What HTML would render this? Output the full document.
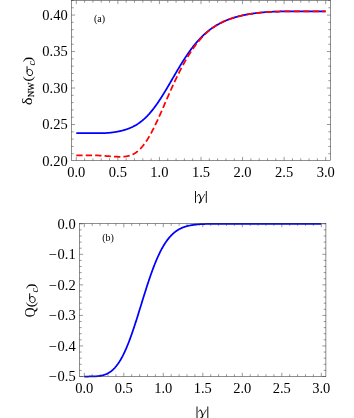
<!DOCTYPE html>
<html><head><meta charset="utf-8"><title>chart</title>
<style>html,body{margin:0;padding:0;background:#fff}svg{display:block;will-change:transform}</style></head>
<body>
<svg width="354" height="418" viewBox="0 0 354 418">
<style>
text{font-family:"Liberation Serif",serif;fill:#000}
.tk{font-size:14.5px}
.lb{font-size:10px}
.ax{font-size:14px}
.it{font-style:italic}
</style>
<rect width="354" height="418" fill="#fff"/>
<path d="M76.30,133.15 L76.72,133.15 L77.13,133.15 L77.55,133.15 L77.96,133.15 L78.38,133.15 L78.79,133.15 L79.21,133.15 L79.63,133.15 L80.04,133.15 L80.46,133.15 L80.87,133.15 L81.29,133.15 L81.70,133.15 L82.12,133.15 L82.53,133.15 L82.95,133.15 L83.37,133.15 L83.78,133.15 L84.20,133.15 L84.61,133.15 L85.03,133.15 L85.44,133.15 L85.86,133.15 L86.28,133.15 L86.69,133.15 L87.11,133.15 L87.52,133.15 L87.94,133.15 L88.35,133.15 L88.77,133.15 L89.19,133.15 L89.60,133.15 L90.02,133.15 L90.43,133.15 L90.85,133.15 L91.26,133.15 L91.68,133.15 L92.09,133.15 L92.51,133.15 L92.93,133.15 L93.34,133.15 L93.76,133.15 L94.17,133.15 L94.59,133.15 L95.00,133.15 L95.42,133.15 L95.84,133.15 L96.25,133.15 L96.67,133.15 L97.08,133.15 L97.50,133.15 L97.91,133.15 L98.33,133.15 L98.75,133.15 L99.16,133.15 L99.58,133.15 L99.99,133.15 L100.41,133.14 L100.82,133.14 L101.24,133.14 L101.65,133.13 L102.07,133.13 L102.49,133.12 L102.90,133.12 L103.32,133.11 L103.73,133.10 L104.15,133.08 L104.56,133.07 L104.98,133.05 L105.40,133.04 L105.81,133.02 L106.23,133.00 L106.64,132.97 L107.06,132.95 L107.47,132.92 L107.89,132.89 L108.31,132.86 L108.72,132.82 L109.14,132.79 L109.55,132.75 L109.97,132.71 L110.38,132.67 L110.80,132.62 L111.21,132.57 L111.63,132.53 L112.05,132.47 L112.46,132.42 L112.88,132.37 L113.29,132.31 L113.71,132.25 L114.12,132.19 L114.54,132.13 L114.96,132.06 L115.37,132.00 L115.79,131.93 L116.20,131.86 L116.62,131.78 L117.03,131.71 L117.45,131.63 L117.86,131.55 L118.28,131.47 L118.70,131.39 L119.11,131.30 L119.53,131.21 L119.94,131.12 L120.36,131.03 L120.77,130.93 L121.19,130.83 L121.61,130.73 L122.02,130.63 L122.44,130.52 L122.85,130.41 L123.27,130.30 L123.68,130.18 L124.10,130.07 L124.52,129.95 L124.93,129.82 L125.35,129.69 L125.76,129.56 L126.18,129.43 L126.59,129.29 L127.01,129.15 L127.42,129.00 L127.84,128.85 L128.26,128.70 L128.67,128.54 L129.09,128.38 L129.50,128.22 L129.92,128.05 L130.33,127.87 L130.75,127.69 L131.17,127.51 L131.58,127.32 L132.00,127.13 L132.41,126.93 L132.83,126.73 L133.24,126.52 L133.66,126.31 L134.08,126.09 L134.49,125.87 L134.91,125.64 L135.32,125.40 L135.74,125.16 L136.15,124.92 L136.57,124.67 L136.98,124.41 L137.40,124.15 L137.82,123.88 L138.23,123.60 L138.65,123.32 L139.06,123.03 L139.48,122.74 L139.89,122.44 L140.31,122.13 L140.73,121.81 L141.14,121.49 L141.56,121.17 L141.97,120.83 L142.39,120.49 L142.80,120.14 L143.22,119.79 L143.64,119.42 L144.05,119.06 L144.47,118.68 L144.88,118.29 L145.30,117.90 L145.71,117.51 L146.13,117.10 L146.54,116.69 L146.96,116.27 L147.38,115.84 L147.79,115.40 L148.21,114.96 L148.62,114.51 L149.04,114.06 L149.45,113.59 L149.87,113.12 L150.29,112.64 L150.70,112.15 L151.12,111.66 L151.53,111.16 L151.95,110.65 L152.36,110.14 L152.78,109.61 L153.20,109.08 L153.61,108.55 L154.03,108.00 L154.44,107.45 L154.86,106.90 L155.27,106.33 L155.69,105.76 L156.10,105.19 L156.52,104.60 L156.94,104.01 L157.35,103.42 L157.77,102.82 L158.18,102.21 L158.60,101.59 L159.01,100.97 L159.43,100.35 L159.85,99.72 L160.26,99.08 L160.68,98.44 L161.09,97.79 L161.51,97.14 L161.92,96.49 L162.34,95.83 L162.76,95.16 L163.17,94.49 L163.59,93.82 L164.00,93.14 L164.42,92.46 L164.83,91.78 L165.25,91.09 L165.66,90.40 L166.08,89.70 L166.50,89.00 L166.91,88.30 L167.33,87.60 L167.74,86.90 L168.16,86.19 L168.57,85.48 L168.99,84.77 L169.41,84.06 L169.82,83.35 L170.24,82.64 L170.65,81.92 L171.07,81.21 L171.48,80.49 L171.90,79.77 L172.32,79.06 L172.73,78.34 L173.15,77.63 L173.56,76.91 L173.98,76.20 L174.39,75.48 L174.81,74.77 L175.22,74.06 L175.64,73.35 L176.06,72.64 L176.47,71.93 L176.89,71.22 L177.30,70.52 L177.72,69.82 L178.13,69.12 L178.55,68.43 L178.97,67.73 L179.38,67.04 L179.80,66.36 L180.21,65.67 L180.63,64.99 L181.04,64.31 L181.46,63.64 L181.88,62.97 L182.29,62.30 L182.71,61.64 L183.12,60.98 L183.54,60.33 L183.95,59.68 L184.37,59.03 L184.78,58.39 L185.20,57.76 L185.62,57.13 L186.03,56.50 L186.45,55.88 L186.86,55.26 L187.28,54.65 L187.69,54.04 L188.11,53.44 L188.53,52.85 L188.94,52.26 L189.36,51.67 L189.77,51.09 L190.19,50.52 L190.60,49.95 L191.02,49.38 L191.44,48.83 L191.85,48.27 L192.27,47.73 L192.68,47.19 L193.10,46.65 L193.51,46.12 L193.93,45.60 L194.34,45.08 L194.76,44.57 L195.18,44.06 L195.59,43.56 L196.01,43.07 L196.42,42.58 L196.84,42.09 L197.25,41.62 L197.67,41.14 L198.09,40.68 L198.50,40.22 L198.92,39.76 L199.33,39.31 L199.75,38.87 L200.16,38.43 L200.58,38.00 L201.00,37.58 L201.41,37.15 L201.83,36.74 L202.24,36.33 L202.66,35.93 L203.07,35.53 L203.49,35.13 L203.90,34.74 L204.32,34.36 L204.74,33.98 L205.15,33.61 L205.57,33.24 L205.98,32.88 L206.40,32.53 L206.81,32.17 L207.23,31.83 L207.65,31.49 L208.06,31.15 L208.48,30.82 L208.89,30.49 L209.31,30.17 L209.72,29.85 L210.14,29.53 L210.55,29.23 L210.97,28.92 L211.39,28.62 L211.80,28.33 L212.22,28.04 L212.63,27.75 L213.05,27.47 L213.46,27.19 L213.88,26.92 L214.30,26.65 L214.71,26.38 L215.13,26.12 L215.54,25.86 L215.96,25.61 L216.37,25.36 L216.79,25.11 L217.21,24.87 L217.62,24.63 L218.04,24.39 L218.45,24.16 L218.87,23.94 L219.28,23.71 L219.70,23.49 L220.11,23.27 L220.53,23.06 L220.95,22.85 L221.36,22.64 L221.78,22.44 L222.19,22.23 L222.61,22.04 L223.02,21.84 L223.44,21.65 L223.86,21.46 L224.27,21.27 L224.69,21.09 L225.10,20.91 L225.52,20.73 L225.93,20.56 L226.35,20.38 L226.77,20.21 L227.18,20.05 L227.60,19.88 L228.01,19.72 L228.43,19.56 L228.84,19.40 L229.26,19.25 L229.67,19.10 L230.09,18.95 L230.51,18.80 L230.92,18.66 L231.34,18.51 L231.75,18.37 L232.17,18.23 L232.58,18.10 L233.00,17.96 L233.42,17.83 L233.83,17.70 L234.25,17.57 L234.66,17.45 L235.08,17.33 L235.49,17.20 L235.91,17.08 L236.33,16.97 L236.74,16.85 L237.16,16.73 L237.57,16.62 L237.99,16.51 L238.40,16.40 L238.82,16.29 L239.23,16.19 L239.65,16.08 L240.07,15.98 L240.48,15.88 L240.90,15.78 L241.31,15.68 L241.73,15.59 L242.14,15.49 L242.56,15.40 L242.98,15.31 L243.39,15.22 L243.81,15.13 L244.22,15.05 L244.64,14.96 L245.05,14.88 L245.47,14.79 L245.89,14.71 L246.30,14.63 L246.72,14.55 L247.13,14.48 L247.55,14.40 L247.96,14.32 L248.38,14.25 L248.79,14.18 L249.21,14.11 L249.63,14.04 L250.04,13.97 L250.46,13.90 L250.87,13.84 L251.29,13.77 L251.70,13.71 L252.12,13.65 L252.54,13.58 L252.95,13.52 L253.37,13.46 L253.78,13.41 L254.20,13.35 L254.61,13.29 L255.03,13.24 L255.45,13.18 L255.86,13.13 L256.28,13.08 L256.69,13.03 L257.11,12.98 L257.52,12.93 L257.94,12.88 L258.35,12.84 L258.77,12.79 L259.19,12.75 L259.60,12.70 L260.02,12.66 L260.43,12.62 L260.85,12.57 L261.26,12.53 L261.68,12.50 L262.10,12.46 L262.51,12.42 L262.93,12.38 L263.34,12.35 L263.76,12.31 L264.17,12.28 L264.59,12.24 L265.01,12.21 L265.42,12.18 L265.84,12.15 L266.25,12.12 L266.67,12.09 L267.08,12.06 L267.50,12.03 L267.91,12.00 L268.33,11.98 L268.75,11.95 L269.16,11.93 L269.58,11.90 L269.99,11.88 L270.41,11.86 L270.82,11.83 L271.24,11.81 L271.66,11.79 L272.07,11.77 L272.49,11.75 L272.90,11.73 L273.32,11.71 L273.73,11.69 L274.15,11.68 L274.57,11.66 L274.98,11.64 L275.40,11.63 L275.81,11.61 L276.23,11.60 L276.64,11.58 L277.06,11.57 L277.47,11.56 L277.89,11.54 L278.31,11.53 L278.72,11.52 L279.14,11.51 L279.55,11.50 L279.97,11.49 L280.38,11.48 L280.80,11.47 L281.22,11.46 L281.63,11.45 L282.05,11.44 L282.46,11.43 L282.88,11.43 L283.29,11.42 L283.71,11.41 L284.12,11.40 L284.54,11.40 L284.96,11.39 L285.37,11.39 L285.79,11.38 L286.20,11.38 L286.62,11.37 L287.03,11.37 L287.45,11.36 L287.87,11.36 L288.28,11.35 L288.70,11.35 L289.11,11.35 L289.53,11.34 L289.94,11.34 L290.36,11.34 L290.78,11.33 L291.19,11.33 L291.61,11.33 L292.02,11.33 L292.44,11.32 L292.85,11.32 L293.27,11.32 L293.68,11.32 L294.10,11.32 L294.52,11.32 L294.93,11.31 L295.35,11.31 L295.76,11.31 L296.18,11.31 L296.59,11.31 L297.01,11.31 L297.43,11.31 L297.84,11.31 L298.26,11.31 L298.67,11.31 L299.09,11.31 L299.50,11.31 L299.92,11.30 L300.34,11.30 L300.75,11.30 L301.17,11.30 L301.58,11.30 L302.00,11.30 L302.41,11.30 L302.83,11.30 L303.24,11.30 L303.66,11.30 L304.08,11.30 L304.49,11.30 L304.91,11.30 L305.32,11.30 L305.74,11.30 L306.15,11.30 L306.57,11.30 L306.99,11.30 L307.40,11.30 L307.82,11.30 L308.23,11.30 L308.65,11.30 L309.06,11.30 L309.48,11.30 L309.90,11.30 L310.31,11.30 L310.73,11.30 L311.14,11.30 L311.56,11.30 L311.97,11.30 L312.39,11.30 L312.80,11.30 L313.22,11.30 L313.64,11.30 L314.05,11.30 L314.47,11.30 L314.88,11.30 L315.30,11.30 L315.71,11.30 L316.13,11.30 L316.55,11.30 L316.96,11.30 L317.38,11.30 L317.79,11.30 L318.21,11.30 L318.62,11.30 L319.04,11.30 L319.46,11.30 L319.87,11.30 L320.29,11.30 L320.70,11.30 L321.12,11.30 L321.53,11.30 L321.95,11.30 L322.36,11.30 L322.78,11.30 L323.20,11.30 L323.61,11.30 L324.03,11.30 L324.44,11.30 L324.86,11.30 L325.27,11.30 L325.69,11.30" fill="none" stroke="#0000ff" stroke-width="1.75" stroke-linejoin="round"/>
<path d="M76.30,155.35 L76.72,155.35 L77.13,155.35 L77.55,155.35 L77.96,155.35 L78.38,155.35 L78.79,155.35 L79.21,155.35 L79.63,155.35 L80.04,155.34 L80.46,155.34 L80.87,155.34 L81.29,155.34 L81.70,155.34 L82.12,155.34 L82.53,155.33 L82.95,155.33 L83.37,155.33 L83.78,155.33 L84.20,155.32 L84.61,155.32 L85.03,155.32 L85.44,155.32 L85.86,155.31 L86.28,155.31 L86.69,155.31 L87.11,155.31 L87.52,155.31 L87.94,155.30 L88.35,155.30 L88.77,155.30 L89.19,155.30 L89.60,155.30 L90.02,155.30 L90.43,155.30 L90.85,155.31 L91.26,155.31 L91.68,155.31 L92.09,155.31 L92.51,155.32 L92.93,155.32 L93.34,155.33 L93.76,155.33 L94.17,155.34 L94.59,155.35 L95.00,155.36 L95.42,155.37 L95.84,155.38 L96.25,155.40 L96.67,155.41 L97.08,155.42 L97.50,155.44 L97.91,155.46 L98.33,155.48 L98.75,155.50 L99.16,155.52 L99.58,155.54 L99.99,155.57 L100.41,155.59 L100.82,155.62 L101.24,155.64 L101.65,155.67 L102.07,155.70 L102.49,155.73 L102.90,155.76 L103.32,155.79 L103.73,155.82 L104.15,155.85 L104.56,155.88 L104.98,155.91 L105.40,155.95 L105.81,155.98 L106.23,156.01 L106.64,156.04 L107.06,156.07 L107.47,156.10 L107.89,156.13 L108.31,156.16 L108.72,156.19 L109.14,156.22 L109.55,156.25 L109.97,156.28 L110.38,156.31 L110.80,156.34 L111.21,156.37 L111.63,156.39 L112.05,156.42 L112.46,156.45 L112.88,156.48 L113.29,156.50 L113.71,156.53 L114.12,156.55 L114.54,156.58 L114.96,156.60 L115.37,156.62 L115.79,156.65 L116.20,156.67 L116.62,156.69 L117.03,156.70 L117.45,156.72 L117.86,156.74 L118.28,156.75 L118.70,156.76 L119.11,156.77 L119.53,156.77 L119.94,156.78 L120.36,156.78 L120.77,156.78 L121.19,156.77 L121.61,156.77 L122.02,156.75 L122.44,156.74 L122.85,156.72 L123.27,156.69 L123.68,156.67 L124.10,156.63 L124.52,156.59 L124.93,156.55 L125.35,156.50 L125.76,156.45 L126.18,156.39 L126.59,156.32 L127.01,156.24 L127.42,156.16 L127.84,156.07 L128.26,155.98 L128.67,155.87 L129.09,155.76 L129.50,155.64 L129.92,155.51 L130.33,155.38 L130.75,155.23 L131.17,155.07 L131.58,154.91 L132.00,154.73 L132.41,154.55 L132.83,154.35 L133.24,154.14 L133.66,153.93 L134.08,153.70 L134.49,153.46 L134.91,153.20 L135.32,152.94 L135.74,152.66 L136.15,152.38 L136.57,152.07 L136.98,151.76 L137.40,151.44 L137.82,151.10 L138.23,150.74 L138.65,150.38 L139.06,150.00 L139.48,149.61 L139.89,149.20 L140.31,148.78 L140.73,148.35 L141.14,147.91 L141.56,147.44 L141.97,146.97 L142.39,146.48 L142.80,145.98 L143.22,145.46 L143.64,144.93 L144.05,144.39 L144.47,143.83 L144.88,143.26 L145.30,142.68 L145.71,142.08 L146.13,141.46 L146.54,140.84 L146.96,140.20 L147.38,139.55 L147.79,138.88 L148.21,138.20 L148.62,137.51 L149.04,136.81 L149.45,136.10 L149.87,135.37 L150.29,134.63 L150.70,133.88 L151.12,133.12 L151.53,132.34 L151.95,131.56 L152.36,130.77 L152.78,129.96 L153.20,129.15 L153.61,128.32 L154.03,127.49 L154.44,126.65 L154.86,125.80 L155.27,124.94 L155.69,124.07 L156.10,123.20 L156.52,122.31 L156.94,121.42 L157.35,120.53 L157.77,119.63 L158.18,118.72 L158.60,117.80 L159.01,116.89 L159.43,115.96 L159.85,115.03 L160.26,114.10 L160.68,113.17 L161.09,112.23 L161.51,111.28 L161.92,110.34 L162.34,109.39 L162.76,108.44 L163.17,107.49 L163.59,106.54 L164.00,105.58 L164.42,104.63 L164.83,103.67 L165.25,102.72 L165.66,101.76 L166.08,100.81 L166.50,99.86 L166.91,98.90 L167.33,97.95 L167.74,97.00 L168.16,96.05 L168.57,95.11 L168.99,94.17 L169.41,93.23 L169.82,92.29 L170.24,91.35 L170.65,90.42 L171.07,89.49 L171.48,88.57 L171.90,87.65 L172.32,86.73 L172.73,85.82 L173.15,84.91 L173.56,84.01 L173.98,83.11 L174.39,82.22 L174.81,81.33 L175.22,80.45 L175.64,79.57 L176.06,78.70 L176.47,77.84 L176.89,76.97 L177.30,76.12 L177.72,75.27 L178.13,74.43 L178.55,73.59 L178.97,72.76 L179.38,71.94 L179.80,71.12 L180.21,70.31 L180.63,69.50 L181.04,68.70 L181.46,67.91 L181.88,67.12 L182.29,66.35 L182.71,65.57 L183.12,64.81 L183.54,64.05 L183.95,63.30 L184.37,62.55 L184.78,61.81 L185.20,61.08 L185.62,60.36 L186.03,59.64 L186.45,58.93 L186.86,58.22 L187.28,57.53 L187.69,56.84 L188.11,56.16 L188.53,55.48 L188.94,54.81 L189.36,54.15 L189.77,53.49 L190.19,52.85 L190.60,52.20 L191.02,51.57 L191.44,50.94 L191.85,50.32 L192.27,49.71 L192.68,49.11 L193.10,48.51 L193.51,47.91 L193.93,47.33 L194.34,46.75 L194.76,46.18 L195.18,45.62 L195.59,45.06 L196.01,44.51 L196.42,43.96 L196.84,43.43 L197.25,42.90 L197.67,42.37 L198.09,41.86 L198.50,41.35 L198.92,40.85 L199.33,40.35 L199.75,39.86 L200.16,39.38 L200.58,38.90 L201.00,38.43 L201.41,37.97 L201.83,37.51 L202.24,37.07 L202.66,36.62 L203.07,36.19 L203.49,35.76 L203.90,35.33 L204.32,34.92 L204.74,34.51 L205.15,34.10 L205.57,33.70 L205.98,33.31 L206.40,32.93 L206.81,32.55 L207.23,32.18 L207.65,31.81 L208.06,31.45 L208.48,31.09 L208.89,30.74 L209.31,30.40 L209.72,30.06 L210.14,29.73 L210.55,29.41 L210.97,29.09 L211.39,28.77 L211.80,28.46 L212.22,28.16 L212.63,27.86 L213.05,27.57 L213.46,27.28 L213.88,26.99 L214.30,26.72 L214.71,26.44 L215.13,26.17 L215.54,25.91 L215.96,25.65 L216.37,25.39 L216.79,25.14 L217.21,24.90 L217.62,24.65 L218.04,24.41 L218.45,24.18 L218.87,23.95 L219.28,23.72 L219.70,23.50 L220.11,23.28 L220.53,23.06 L220.95,22.85 L221.36,22.64 L221.78,22.44 L222.19,22.24 L222.61,22.04 L223.02,21.84 L223.44,21.65 L223.86,21.46 L224.27,21.27 L224.69,21.09 L225.10,20.91 L225.52,20.73 L225.93,20.56 L226.35,20.38 L226.77,20.21 L227.18,20.05 L227.60,19.88 L228.01,19.72 L228.43,19.56 L228.84,19.40 L229.26,19.25 L229.67,19.10 L230.09,18.95 L230.51,18.80 L230.92,18.66 L231.34,18.51 L231.75,18.37 L232.17,18.23 L232.58,18.10 L233.00,17.96 L233.42,17.83 L233.83,17.70 L234.25,17.57 L234.66,17.45 L235.08,17.33 L235.49,17.20 L235.91,17.08 L236.33,16.97 L236.74,16.85 L237.16,16.73 L237.57,16.62 L237.99,16.51 L238.40,16.40 L238.82,16.29 L239.23,16.19 L239.65,16.08 L240.07,15.98 L240.48,15.88 L240.90,15.78 L241.31,15.68 L241.73,15.59 L242.14,15.49 L242.56,15.40 L242.98,15.31 L243.39,15.22 L243.81,15.13 L244.22,15.05 L244.64,14.96 L245.05,14.88 L245.47,14.79 L245.89,14.71 L246.30,14.63 L246.72,14.55 L247.13,14.48 L247.55,14.40 L247.96,14.32 L248.38,14.25 L248.79,14.18 L249.21,14.11 L249.63,14.04 L250.04,13.97 L250.46,13.90 L250.87,13.84 L251.29,13.77 L251.70,13.71 L252.12,13.65 L252.54,13.58 L252.95,13.52 L253.37,13.46 L253.78,13.41 L254.20,13.35 L254.61,13.29 L255.03,13.24 L255.45,13.18 L255.86,13.13 L256.28,13.08 L256.69,13.03 L257.11,12.98 L257.52,12.93 L257.94,12.88 L258.35,12.84 L258.77,12.79 L259.19,12.75 L259.60,12.70 L260.02,12.66 L260.43,12.62 L260.85,12.57 L261.26,12.53 L261.68,12.50 L262.10,12.46 L262.51,12.42 L262.93,12.38 L263.34,12.35 L263.76,12.31 L264.17,12.28 L264.59,12.24 L265.01,12.21 L265.42,12.18 L265.84,12.15 L266.25,12.12 L266.67,12.09 L267.08,12.06 L267.50,12.03 L267.91,12.00 L268.33,11.98 L268.75,11.95 L269.16,11.93 L269.58,11.90 L269.99,11.88 L270.41,11.86 L270.82,11.83 L271.24,11.81 L271.66,11.79 L272.07,11.77 L272.49,11.75 L272.90,11.73 L273.32,11.71 L273.73,11.69 L274.15,11.68 L274.57,11.66 L274.98,11.64 L275.40,11.63 L275.81,11.61 L276.23,11.60 L276.64,11.58 L277.06,11.57 L277.47,11.56 L277.89,11.54 L278.31,11.53 L278.72,11.52 L279.14,11.51 L279.55,11.50 L279.97,11.49 L280.38,11.48 L280.80,11.47 L281.22,11.46 L281.63,11.45 L282.05,11.44 L282.46,11.43 L282.88,11.43 L283.29,11.42 L283.71,11.41 L284.12,11.40 L284.54,11.40 L284.96,11.39 L285.37,11.39 L285.79,11.38 L286.20,11.38 L286.62,11.37 L287.03,11.37 L287.45,11.36 L287.87,11.36 L288.28,11.35 L288.70,11.35 L289.11,11.35 L289.53,11.34 L289.94,11.34 L290.36,11.34 L290.78,11.33 L291.19,11.33 L291.61,11.33 L292.02,11.33 L292.44,11.32 L292.85,11.32 L293.27,11.32 L293.68,11.32 L294.10,11.32 L294.52,11.32 L294.93,11.31 L295.35,11.31 L295.76,11.31 L296.18,11.31 L296.59,11.31 L297.01,11.31 L297.43,11.31 L297.84,11.31 L298.26,11.31 L298.67,11.31 L299.09,11.31 L299.50,11.31 L299.92,11.30 L300.34,11.30 L300.75,11.30 L301.17,11.30 L301.58,11.30 L302.00,11.30 L302.41,11.30 L302.83,11.30 L303.24,11.30 L303.66,11.30 L304.08,11.30 L304.49,11.30 L304.91,11.30 L305.32,11.30 L305.74,11.30 L306.15,11.30 L306.57,11.30 L306.99,11.30 L307.40,11.30 L307.82,11.30 L308.23,11.30 L308.65,11.30 L309.06,11.30 L309.48,11.30 L309.90,11.30 L310.31,11.30 L310.73,11.30 L311.14,11.30 L311.56,11.30 L311.97,11.30 L312.39,11.30 L312.80,11.30 L313.22,11.30 L313.64,11.30 L314.05,11.30 L314.47,11.30 L314.88,11.30 L315.30,11.30 L315.71,11.30 L316.13,11.30 L316.55,11.30 L316.96,11.30 L317.38,11.30 L317.79,11.30 L318.21,11.30 L318.62,11.30 L319.04,11.30 L319.46,11.30 L319.87,11.30 L320.29,11.30 L320.70,11.30 L321.12,11.30 L321.53,11.30 L321.95,11.30 L322.36,11.30 L322.78,11.30 L323.20,11.30 L323.61,11.30 L324.03,11.30 L324.44,11.30 L324.86,11.30 L325.27,11.30 L325.69,11.30" fill="none" stroke="#ff0000" stroke-width="1.75" stroke-dasharray="6.32 3.12" stroke-linejoin="round"/>
<rect x="71.5" y="0.5" width="259.00" height="160.00" fill="none" stroke="#333" stroke-width="0.55"/>
<path d="M76.30,160.5 v-3.6 M76.30,0.5 v3.6 M84.61,160.5 v-2.2 M84.61,0.5 v2.2 M92.93,160.5 v-2.2 M92.93,0.5 v2.2 M101.24,160.5 v-2.2 M101.24,0.5 v2.2 M109.55,160.5 v-2.2 M109.55,0.5 v2.2 M117.86,160.5 v-3.6 M117.86,0.5 v3.6 M126.18,160.5 v-2.2 M126.18,0.5 v2.2 M134.49,160.5 v-2.2 M134.49,0.5 v2.2 M142.80,160.5 v-2.2 M142.80,0.5 v2.2 M151.12,160.5 v-2.2 M151.12,0.5 v2.2 M159.43,160.5 v-3.6 M159.43,0.5 v3.6 M167.74,160.5 v-2.2 M167.74,0.5 v2.2 M176.06,160.5 v-2.2 M176.06,0.5 v2.2 M184.37,160.5 v-2.2 M184.37,0.5 v2.2 M192.68,160.5 v-2.2 M192.68,0.5 v2.2 M201.00,160.5 v-3.6 M201.00,0.5 v3.6 M209.31,160.5 v-2.2 M209.31,0.5 v2.2 M217.62,160.5 v-2.2 M217.62,0.5 v2.2 M225.93,160.5 v-2.2 M225.93,0.5 v2.2 M234.25,160.5 v-2.2 M234.25,0.5 v2.2 M242.56,160.5 v-3.6 M242.56,0.5 v3.6 M250.87,160.5 v-2.2 M250.87,0.5 v2.2 M259.19,160.5 v-2.2 M259.19,0.5 v2.2 M267.50,160.5 v-2.2 M267.50,0.5 v2.2 M275.81,160.5 v-2.2 M275.81,0.5 v2.2 M284.12,160.5 v-3.6 M284.12,0.5 v3.6 M292.44,160.5 v-2.2 M292.44,0.5 v2.2 M300.75,160.5 v-2.2 M300.75,0.5 v2.2 M309.06,160.5 v-2.2 M309.06,0.5 v2.2 M317.38,160.5 v-2.2 M317.38,0.5 v2.2 M325.69,160.5 v-3.6 M325.69,0.5 v3.6 M71.5,153.70 h2.2 M330.5,153.70 h-2.2 M71.5,146.41 h2.2 M330.5,146.41 h-2.2 M71.5,139.11 h2.2 M330.5,139.11 h-2.2 M71.5,131.81 h2.2 M330.5,131.81 h-2.2 M71.5,124.51 h3.6 M330.5,124.51 h-3.6 M71.5,117.22 h2.2 M330.5,117.22 h-2.2 M71.5,109.92 h2.2 M330.5,109.92 h-2.2 M71.5,102.62 h2.2 M330.5,102.62 h-2.2 M71.5,95.32 h2.2 M330.5,95.32 h-2.2 M71.5,88.03 h3.6 M330.5,88.03 h-3.6 M71.5,80.73 h2.2 M330.5,80.73 h-2.2 M71.5,73.43 h2.2 M330.5,73.43 h-2.2 M71.5,66.13 h2.2 M330.5,66.13 h-2.2 M71.5,58.83 h2.2 M330.5,58.83 h-2.2 M71.5,51.54 h3.6 M330.5,51.54 h-3.6 M71.5,44.24 h2.2 M330.5,44.24 h-2.2 M71.5,36.94 h2.2 M330.5,36.94 h-2.2 M71.5,29.65 h2.2 M330.5,29.65 h-2.2 M71.5,22.35 h2.2 M330.5,22.35 h-2.2 M71.5,15.05 h3.6 M330.5,15.05 h-3.6 M71.5,7.75 h2.2 M330.5,7.75 h-2.2 M71.5,0.46 h2.2 M330.5,0.46 h-2.2" stroke="#333" stroke-width="0.5" fill="none"/>
<text x="76.30" y="177.10" text-anchor="middle" class="tk">0.0</text>
<text x="117.86" y="177.10" text-anchor="middle" class="tk">0.5</text>
<text x="159.43" y="177.10" text-anchor="middle" class="tk">1.0</text>
<text x="201.00" y="177.10" text-anchor="middle" class="tk">1.5</text>
<text x="242.56" y="177.10" text-anchor="middle" class="tk">2.0</text>
<text x="284.12" y="177.10" text-anchor="middle" class="tk">2.5</text>
<text x="325.69" y="177.10" text-anchor="middle" class="tk">3.0</text>
<text x="67.70" y="165.85" text-anchor="end" class="tk">0.20</text>
<text x="67.70" y="129.36" text-anchor="end" class="tk">0.25</text>
<text x="67.70" y="92.88" text-anchor="end" class="tk">0.30</text>
<text x="67.70" y="56.39" text-anchor="end" class="tk">0.35</text>
<text x="67.70" y="19.90" text-anchor="end" class="tk">0.40</text>
<text x="99.55" y="21.6" text-anchor="middle" class="lb">(a)</text>
<g transform="translate(200.9,191.0)" fill="none" stroke="#000" stroke-linecap="round"><path d="M-5.4,0 v11.8 M5.4,0 v11.8" stroke-width="0.95" stroke-linecap="butt"/><path d="M-3.8,5.3 C-3.5,4.2 -2.9,3.5 -2.2,3.5" stroke-width="0.7"/><path d="M-2.2,3.5 C-1.2,3.5 -0.2,6.8 0.2,9.8" stroke-width="1.2"/><path d="M3.8,3.4 C2.6,5.6 0.8,8.6 -0.9,11.0" stroke-width="0.75"/><path d="M0.2,9.8 C0.2,10.9 -0.5,12.2 -1.4,12.1" stroke-width="0.8"/><ellipse cx="-1.45" cy="11.45" rx="0.75" ry="0.7" fill="#000" stroke="none"/></g>
<g transform="translate(32.3,105.2) rotate(-90)"><text x="0" y="0" font-size="14" textLength="7.9" lengthAdjust="spacingAndGlyphs">δ</text><text stroke="#000" stroke-width="0.2" x="8" y="2" font-size="9.2" textLength="14.6" lengthAdjust="spacingAndGlyphs">NW</text><text x="23.5" y="0" font-size="13.5" textLength="5.6" lengthAdjust="spacingAndGlyphs">(</text><path transform="translate(29.5,0)" d="M9.1,-5.25 L3.4,-5.25 C1.2,-5.25 0.1,-3.7 0.1,-2.3 C0.1,-0.7 1.3,0.3 2.9,0.3 C4.8,0.3 6.3,-1.1 6.3,-3.0 C6.3,-4.3 5.5,-5.25 4.2,-5.25" fill="none" stroke="#000" stroke-width="0.95" stroke-linecap="round"/><text x="39.6" y="2.8" font-size="10" font-style="italic">c</text><text x="43.0" y="0" font-size="13.5" textLength="5.6" lengthAdjust="spacingAndGlyphs">)</text></g>
<path d="M84.30,376.50 L84.69,376.50 L85.09,376.50 L85.48,376.50 L85.88,376.50 L86.27,376.50 L86.67,376.50 L87.06,376.50 L87.46,376.50 L87.85,376.50 L88.25,376.50 L88.64,376.50 L89.04,376.49 L89.44,376.49 L89.83,376.49 L90.22,376.49 L90.62,376.48 L91.02,376.48 L91.41,376.47 L91.80,376.47 L92.20,376.46 L92.59,376.45 L92.99,376.44 L93.38,376.43 L93.78,376.42 L94.17,376.40 L94.57,376.38 L94.97,376.36 L95.36,376.34 L95.75,376.32 L96.15,376.29 L96.55,376.27 L96.94,376.23 L97.33,376.20 L97.73,376.16 L98.12,376.12 L98.52,376.07 L98.91,376.02 L99.31,375.97 L99.70,375.91 L100.10,375.85 L100.50,375.78 L100.89,375.71 L101.28,375.63 L101.68,375.55 L102.08,375.46 L102.47,375.37 L102.86,375.26 L103.26,375.16 L103.66,375.04 L104.05,374.92 L104.44,374.79 L104.84,374.65 L105.23,374.51 L105.63,374.36 L106.03,374.20 L106.42,374.02 L106.81,373.85 L107.21,373.66 L107.60,373.46 L108.00,373.25 L108.39,373.03 L108.79,372.80 L109.19,372.56 L109.58,372.31 L109.97,372.05 L110.37,371.77 L110.77,371.49 L111.16,371.19 L111.56,370.88 L111.95,370.55 L112.34,370.22 L112.74,369.87 L113.13,369.50 L113.53,369.12 L113.92,368.73 L114.32,368.33 L114.72,367.90 L115.11,367.47 L115.50,367.02 L115.90,366.55 L116.30,366.07 L116.69,365.57 L117.09,365.05 L117.48,364.52 L117.88,363.98 L118.27,363.41 L118.66,362.83 L119.06,362.24 L119.45,361.62 L119.85,360.99 L120.25,360.34 L120.64,359.68 L121.03,359.00 L121.43,358.30 L121.83,357.58 L122.22,356.84 L122.61,356.09 L123.01,355.32 L123.41,354.53 L123.80,353.73 L124.19,352.91 L124.59,352.07 L124.98,351.21 L125.38,350.33 L125.78,349.44 L126.17,348.54 L126.56,347.61 L126.96,346.67 L127.35,345.71 L127.75,344.74 L128.15,343.75 L128.54,342.74 L128.94,341.72 L129.33,340.69 L129.72,339.64 L130.12,338.57 L130.51,337.49 L130.91,336.40 L131.31,335.30 L131.70,334.18 L132.09,333.05 L132.49,331.90 L132.88,330.75 L133.28,329.58 L133.68,328.40 L134.07,327.22 L134.47,326.02 L134.86,324.81 L135.25,323.60 L135.65,322.37 L136.05,321.14 L136.44,319.90 L136.84,318.66 L137.23,317.41 L137.62,316.15 L138.02,314.89 L138.41,313.62 L138.81,312.35 L139.21,311.08 L139.60,309.80 L140.00,308.52 L140.39,307.24 L140.78,305.96 L141.18,304.68 L141.57,303.40 L141.97,302.12 L142.37,300.84 L142.76,299.56 L143.16,298.28 L143.55,297.01 L143.94,295.74 L144.34,294.48 L144.74,293.22 L145.13,291.96 L145.53,290.72 L145.92,289.47 L146.31,288.24 L146.71,287.01 L147.10,285.79 L147.50,284.57 L147.90,283.37 L148.29,282.17 L148.69,280.98 L149.08,279.81 L149.48,278.64 L149.87,277.48 L150.26,276.34 L150.66,275.20 L151.06,274.08 L151.45,272.97 L151.84,271.87 L152.24,270.79 L152.63,269.71 L153.03,268.65 L153.43,267.60 L153.82,266.57 L154.22,265.55 L154.61,264.54 L155.00,263.55 L155.40,262.57 L155.80,261.61 L156.19,260.66 L156.58,259.73 L156.98,258.81 L157.38,257.90 L157.77,257.01 L158.17,256.14 L158.56,255.28 L158.95,254.44 L159.35,253.61 L159.75,252.79 L160.14,251.99 L160.53,251.21 L160.93,250.44 L161.32,249.69 L161.72,248.95 L162.12,248.22 L162.51,247.51 L162.91,246.82 L163.30,246.14 L163.69,245.47 L164.09,244.82 L164.49,244.19 L164.88,243.57 L165.27,242.96 L165.67,242.37 L166.06,241.79 L166.46,241.22 L166.85,240.67 L167.25,240.13 L167.64,239.60 L168.04,239.09 L168.44,238.59 L168.83,238.10 L169.22,237.63 L169.62,237.17 L170.01,236.72 L170.41,236.28 L170.81,235.86 L171.20,235.44 L171.59,235.04 L171.99,234.65 L172.38,234.27 L172.78,233.90 L173.18,233.54 L173.57,233.19 L173.97,232.85 L174.36,232.53 L174.75,232.21 L175.15,231.90 L175.55,231.60 L175.94,231.31 L176.33,231.03 L176.73,230.76 L177.12,230.49 L177.52,230.24 L177.92,229.99 L178.31,229.75 L178.70,229.52 L179.10,229.30 L179.50,229.08 L179.89,228.87 L180.28,228.67 L180.68,228.47 L181.07,228.28 L181.47,228.10 L181.87,227.93 L182.26,227.76 L182.66,227.59 L183.05,227.44 L183.44,227.28 L183.84,227.14 L184.24,227.00 L184.63,226.86 L185.03,226.73 L185.42,226.60 L185.81,226.48 L186.21,226.36 L186.60,226.25 L187.00,226.14 L187.39,226.04 L187.79,225.94 L188.19,225.84 L188.58,225.75 L188.97,225.66 L189.37,225.58 L189.76,225.50 L190.16,225.42 L190.56,225.34 L190.95,225.27 L191.34,225.20 L191.74,225.13 L192.13,225.07 L192.53,225.01 L192.93,224.95 L193.32,224.89 L193.72,224.84 L194.11,224.79 L194.50,224.74 L194.90,224.69 L195.30,224.65 L195.69,224.60 L196.08,224.56 L196.48,224.52 L196.88,224.49 L197.27,224.45 L197.67,224.42 L198.06,224.38 L198.45,224.35 L198.85,224.32 L199.25,224.29 L199.64,224.27 L200.03,224.24 L200.43,224.22 L200.82,224.19 L201.22,224.17 L201.62,224.15 L202.01,224.13 L202.41,224.11 L202.80,224.09 L203.19,224.07 L203.59,224.05 L203.99,224.04 L204.38,224.02 L204.78,224.01 L205.17,224.00 L205.56,223.98 L205.96,223.97 L206.35,223.96 L206.75,223.95 L207.14,223.94 L207.54,223.93 L207.94,223.92 L208.33,223.91 L208.72,223.90 L209.12,223.89 L209.51,223.88 L209.91,223.88 L210.31,223.87 L210.70,223.86 L211.09,223.86 L211.49,223.85 L211.88,223.84 L212.28,223.84 L212.68,223.83 L213.07,223.83 L213.46,223.82 L213.86,223.82 L214.25,223.82 L214.65,223.81 L215.05,223.81 L215.44,223.80 L215.83,223.80 L216.23,223.80 L216.62,223.80 L217.02,223.79 L217.42,223.79 L217.81,223.79 L218.20,223.79 L218.60,223.78 L219.00,223.78 L219.39,223.78 L219.79,223.78 L220.18,223.78 L220.57,223.77 L220.97,223.77 L221.37,223.77 L221.76,223.77 L222.16,223.77 L222.55,223.77 L222.94,223.77 L223.34,223.77 L223.74,223.76 L224.13,223.76 L224.53,223.76 L224.92,223.76 L225.31,223.76 L225.71,223.76 L226.11,223.76 L226.50,223.76 L226.89,223.76 L227.29,223.76 L227.69,223.76 L228.08,223.76 L228.47,223.76 L228.87,223.76 L229.26,223.76 L229.66,223.76 L230.06,223.76 L230.45,223.75 L230.84,223.75 L231.24,223.75 L231.63,223.75 L232.03,223.75 L232.43,223.75 L232.82,223.75 L233.21,223.75 L233.61,223.75 L234.00,223.75 L234.40,223.75 L234.80,223.75 L235.19,223.75 L235.58,223.75 L235.98,223.75 L236.38,223.75 L236.77,223.75 L237.17,223.75 L237.56,223.75 L237.95,223.75 L238.35,223.75 L238.75,223.75 L239.14,223.75 L239.54,223.75 L239.93,223.75 L240.32,223.75 L240.72,223.75 L241.12,223.75 L241.51,223.75 L241.91,223.75 L242.30,223.75 L242.69,223.75 L243.09,223.75 L243.49,223.75 L243.88,223.75 L244.27,223.75 L244.67,223.75 L245.06,223.75 L245.46,223.75 L245.86,223.75 L246.25,223.75 L246.64,223.75 L247.04,223.75 L247.44,223.75 L247.83,223.75 L248.23,223.75 L248.62,223.75 L249.01,223.75 L249.41,223.75 L249.81,223.75 L250.20,223.75 L250.59,223.75 L250.99,223.75 L251.38,223.75 L251.78,223.75 L252.18,223.75 L252.57,223.75 L252.97,223.75 L253.36,223.75 L253.75,223.75 L254.15,223.75 L254.55,223.75 L254.94,223.75 L255.33,223.75 L255.73,223.75 L256.12,223.75 L256.52,223.75 L256.92,223.75 L257.31,223.75 L257.70,223.75 L258.10,223.75 L258.50,223.75 L258.89,223.75 L259.28,223.75 L259.68,223.75 L260.07,223.75 L260.47,223.75 L260.87,223.75 L261.26,223.75 L261.66,223.75 L262.05,223.75 L262.44,223.75 L262.84,223.75 L263.24,223.75 L263.63,223.75 L264.02,223.75 L264.42,223.75 L264.81,223.75 L265.21,223.75 L265.61,223.75 L266.00,223.75 L266.39,223.75 L266.79,223.75 L267.19,223.75 L267.58,223.75 L267.98,223.75 L268.37,223.75 L268.76,223.75 L269.16,223.75 L269.56,223.75 L269.95,223.75 L270.34,223.75 L270.74,223.75 L271.13,223.75 L271.53,223.75 L271.93,223.75 L272.32,223.75 L272.72,223.75 L273.11,223.75 L273.50,223.75 L273.90,223.75 L274.30,223.75 L274.69,223.75 L275.08,223.75 L275.48,223.75 L275.88,223.75 L276.27,223.75 L276.67,223.75 L277.06,223.75 L277.45,223.75 L277.85,223.75 L278.25,223.75 L278.64,223.75 L279.03,223.75 L279.43,223.75 L279.82,223.75 L280.22,223.75 L280.62,223.75 L281.01,223.75 L281.41,223.75 L281.80,223.75 L282.19,223.75 L282.59,223.75 L282.99,223.75 L283.38,223.75 L283.77,223.75 L284.17,223.75 L284.56,223.75 L284.96,223.75 L285.36,223.75 L285.75,223.75 L286.14,223.75 L286.54,223.75 L286.94,223.75 L287.33,223.75 L287.73,223.75 L288.12,223.75 L288.51,223.75 L288.91,223.75 L289.31,223.75 L289.70,223.75 L290.09,223.75 L290.49,223.75 L290.88,223.75 L291.28,223.75 L291.68,223.75 L292.07,223.75 L292.47,223.75 L292.86,223.75 L293.25,223.75 L293.65,223.75 L294.05,223.75 L294.44,223.75 L294.83,223.75 L295.23,223.75 L295.62,223.75 L296.02,223.75 L296.42,223.75 L296.81,223.75 L297.20,223.75 L297.60,223.75 L298.00,223.75 L298.39,223.75 L298.78,223.75 L299.18,223.75 L299.57,223.75 L299.97,223.75 L300.37,223.75 L300.76,223.75 L301.16,223.75 L301.55,223.75 L301.94,223.75 L302.34,223.75 L302.74,223.75 L303.13,223.75 L303.52,223.75 L303.92,223.75 L304.31,223.75 L304.71,223.75 L305.11,223.75 L305.50,223.75 L305.89,223.75 L306.29,223.75 L306.69,223.75 L307.08,223.75 L307.48,223.75 L307.87,223.75 L308.26,223.75 L308.66,223.75 L309.06,223.75 L309.45,223.75 L309.84,223.75 L310.24,223.75 L310.63,223.75 L311.03,223.75 L311.43,223.75 L311.82,223.75 L312.22,223.75 L312.61,223.75 L313.00,223.75 L313.40,223.75 L313.80,223.75 L314.19,223.75 L314.58,223.75 L314.98,223.75 L315.38,223.75 L315.77,223.75 L316.17,223.75 L316.56,223.75 L316.95,223.75 L317.35,223.75 L317.75,223.75 L318.14,223.75 L318.53,223.75 L318.93,223.75 L319.32,223.75 L319.72,223.75 L320.12,223.75 L320.51,223.75 L320.91,223.75 L321.30,223.75" fill="none" stroke="#0000ff" stroke-width="1.75" stroke-linejoin="round"/>
<rect x="79.5" y="223.65" width="246.40" height="152.75" fill="none" stroke="#333" stroke-width="0.55"/>
<path d="M84.30,376.4 v-3.6 M84.30,223.65 v3.6 M92.20,376.4 v-2.2 M92.20,223.65 v2.2 M100.10,376.4 v-2.2 M100.10,223.65 v2.2 M108.00,376.4 v-2.2 M108.00,223.65 v2.2 M115.90,376.4 v-2.2 M115.90,223.65 v2.2 M123.80,376.4 v-3.6 M123.80,223.65 v3.6 M131.70,376.4 v-2.2 M131.70,223.65 v2.2 M139.60,376.4 v-2.2 M139.60,223.65 v2.2 M147.50,376.4 v-2.2 M147.50,223.65 v2.2 M155.40,376.4 v-2.2 M155.40,223.65 v2.2 M163.30,376.4 v-3.6 M163.30,223.65 v3.6 M171.20,376.4 v-2.2 M171.20,223.65 v2.2 M179.10,376.4 v-2.2 M179.10,223.65 v2.2 M187.00,376.4 v-2.2 M187.00,223.65 v2.2 M194.90,376.4 v-2.2 M194.90,223.65 v2.2 M202.80,376.4 v-3.6 M202.80,223.65 v3.6 M210.70,376.4 v-2.2 M210.70,223.65 v2.2 M218.60,376.4 v-2.2 M218.60,223.65 v2.2 M226.50,376.4 v-2.2 M226.50,223.65 v2.2 M234.40,376.4 v-2.2 M234.40,223.65 v2.2 M242.30,376.4 v-3.6 M242.30,223.65 v3.6 M250.20,376.4 v-2.2 M250.20,223.65 v2.2 M258.10,376.4 v-2.2 M258.10,223.65 v2.2 M266.00,376.4 v-2.2 M266.00,223.65 v2.2 M273.90,376.4 v-2.2 M273.90,223.65 v2.2 M281.80,376.4 v-3.6 M281.80,223.65 v3.6 M289.70,376.4 v-2.2 M289.70,223.65 v2.2 M297.60,376.4 v-2.2 M297.60,223.65 v2.2 M305.50,376.4 v-2.2 M305.50,223.65 v2.2 M313.40,376.4 v-2.2 M313.40,223.65 v2.2 M321.30,376.4 v-3.6 M321.30,223.65 v3.6 M79.5,223.75 h3.6 M325.9,223.75 h-3.6 M79.5,229.86 h2.2 M325.9,229.86 h-2.2 M79.5,235.97 h2.2 M325.9,235.97 h-2.2 M79.5,242.08 h2.2 M325.9,242.08 h-2.2 M79.5,248.19 h2.2 M325.9,248.19 h-2.2 M79.5,254.30 h3.6 M325.9,254.30 h-3.6 M79.5,260.41 h2.2 M325.9,260.41 h-2.2 M79.5,266.52 h2.2 M325.9,266.52 h-2.2 M79.5,272.63 h2.2 M325.9,272.63 h-2.2 M79.5,278.74 h2.2 M325.9,278.74 h-2.2 M79.5,284.85 h3.6 M325.9,284.85 h-3.6 M79.5,290.96 h2.2 M325.9,290.96 h-2.2 M79.5,297.07 h2.2 M325.9,297.07 h-2.2 M79.5,303.18 h2.2 M325.9,303.18 h-2.2 M79.5,309.29 h2.2 M325.9,309.29 h-2.2 M79.5,315.40 h3.6 M325.9,315.40 h-3.6 M79.5,321.51 h2.2 M325.9,321.51 h-2.2 M79.5,327.62 h2.2 M325.9,327.62 h-2.2 M79.5,333.73 h2.2 M325.9,333.73 h-2.2 M79.5,339.84 h2.2 M325.9,339.84 h-2.2 M79.5,345.95 h3.6 M325.9,345.95 h-3.6 M79.5,352.06 h2.2 M325.9,352.06 h-2.2 M79.5,358.17 h2.2 M325.9,358.17 h-2.2 M79.5,364.28 h2.2 M325.9,364.28 h-2.2 M79.5,370.39 h2.2 M325.9,370.39 h-2.2 M79.5,376.50 h3.6 M325.9,376.50 h-3.6" stroke="#333" stroke-width="0.5" fill="none"/>
<text x="84.30" y="393.00" text-anchor="middle" class="tk">0.0</text>
<text x="123.80" y="393.00" text-anchor="middle" class="tk">0.5</text>
<text x="163.30" y="393.00" text-anchor="middle" class="tk">1.0</text>
<text x="202.80" y="393.00" text-anchor="middle" class="tk">1.5</text>
<text x="242.30" y="393.00" text-anchor="middle" class="tk">2.0</text>
<text x="281.80" y="393.00" text-anchor="middle" class="tk">2.5</text>
<text x="321.30" y="393.00" text-anchor="middle" class="tk">3.0</text>
<text x="75.70" y="228.60" text-anchor="end" class="tk">0.0</text>
<text x="75.70" y="259.15" text-anchor="end" class="tk">−<tspan dx="1">0.1</tspan></text>
<text x="75.70" y="289.70" text-anchor="end" class="tk">−<tspan dx="1">0.2</tspan></text>
<text x="75.70" y="320.25" text-anchor="end" class="tk">−<tspan dx="1">0.3</tspan></text>
<text x="75.70" y="350.80" text-anchor="end" class="tk">−<tspan dx="1">0.4</tspan></text>
<text x="75.70" y="381.35" text-anchor="end" class="tk">−<tspan dx="1">0.5</tspan></text>
<text x="108.1" y="240.6" text-anchor="middle" class="lb">(b)</text>
<g transform="translate(202.4,406.5)" fill="none" stroke="#000" stroke-linecap="round"><path d="M-5.4,0 v11.8 M5.4,0 v11.8" stroke-width="0.95" stroke-linecap="butt"/><path d="M-3.8,5.3 C-3.5,4.2 -2.9,3.5 -2.2,3.5" stroke-width="0.7"/><path d="M-2.2,3.5 C-1.2,3.5 -0.2,6.8 0.2,9.8" stroke-width="1.2"/><path d="M3.8,3.4 C2.6,5.6 0.8,8.6 -0.9,11.0" stroke-width="0.75"/><path d="M0.2,9.8 C0.2,10.9 -0.5,12.2 -1.4,12.1" stroke-width="0.8"/><ellipse cx="-1.45" cy="11.45" rx="0.75" ry="0.7" fill="#000" stroke="none"/></g>
<g transform="translate(34.9,317.3) rotate(-90)"><text x="0" y="0" font-size="14" textLength="9.7" lengthAdjust="spacingAndGlyphs">Q</text><text x="9.8" y="0" font-size="13.5" textLength="5.6" lengthAdjust="spacingAndGlyphs">(</text><path transform="translate(14.5,0)" d="M9.1,-5.25 L3.4,-5.25 C1.2,-5.25 0.1,-3.7 0.1,-2.3 C0.1,-0.7 1.3,0.3 2.9,0.3 C4.8,0.3 6.3,-1.1 6.3,-3.0 C6.3,-4.3 5.5,-5.25 4.2,-5.25" fill="none" stroke="#000" stroke-width="0.95" stroke-linecap="round"/><text x="24.9" y="2.8" font-size="10" font-style="italic">c</text><text x="28.4" y="0" font-size="13.5" textLength="5.6" lengthAdjust="spacingAndGlyphs">)</text></g>
</svg>
</body></html>
